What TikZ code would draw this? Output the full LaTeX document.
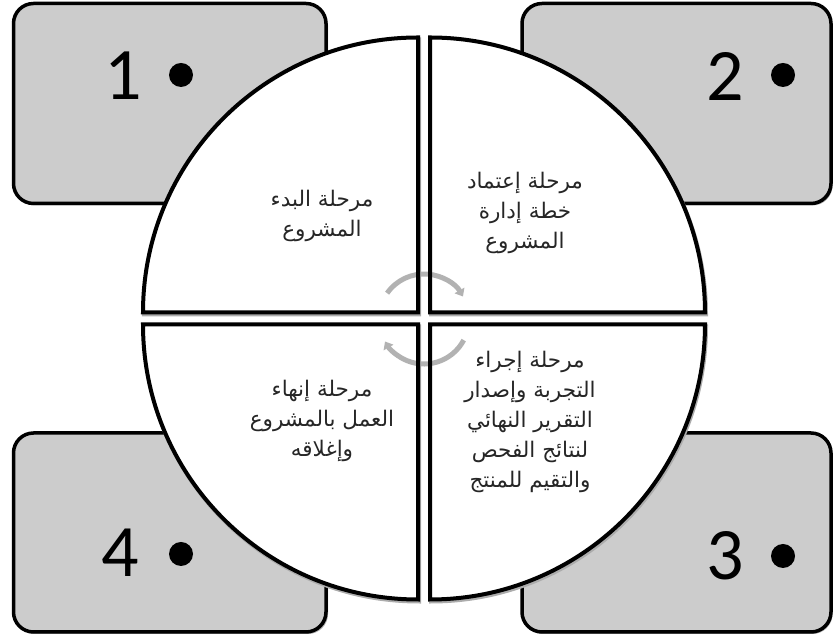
\documentclass[tikz,border=0pt]{standalone}
\usepackage{fontspec}
\setmainfont{Carlito}
\newfontfamily\arabicfont[Script=Arabic]{DejaVu Sans}
\TeXXeTstate=1
\usetikzlibrary{arrows.meta}
\newcommand{\rtl}[1]{\beginR #1\endR}
\begin{document}
\begin{tikzpicture}[x=1pt,y=1pt,
  box/.style={draw=black, line width=3.5pt, fill=gray!40, rounded corners=20pt},
  boxshadow/.style={fill=gray!65, rounded corners=20pt},
  secfill/.style={fill=white},
  secshadow/.style={draw=gray!65, line width=4pt},
  outline/.style={draw=black, line width=4pt, line join=miter},
  num/.style={font=\fontsize{74}{74}\selectfont, inner sep=0pt},
  dotmark/.style={circle, fill=black, minimum size=24pt, inner sep=0pt},
  phase/.style={font=\arabicfont\fontsize{21.5}{30}\selectfont, align=center, text=black!85},
  cyc/.style={draw=gray!60, line width=5pt, -{Triangle[length=7pt,width=11pt]}}
]
\useasboundingbox (0,0) rectangle (833,639);
% shadows of boxes
\path[boxshadow] (15,433.5) rectangle (328,633.5);
\path[boxshadow] (523.5,433.5) rectangle (832.5,633.5);
\path[boxshadow] (15,5) rectangle (328,204);
\path[boxshadow] (523.5,5) rectangle (832.5,204);
% boxes
\path[box] (13.5,435.5) rectangle (326,635.5);
\path[box] (522,435.5) rectangle (831,635.5);
\path[box] (13.5,7) rectangle (326,206);
\path[box] (522,7) rectangle (831,206);
% numbers and dots
\node[num] (n1) at (123,563) {1};
\node[dotmark] (d1) at (181,564) {};
\node[num] (n2) at (725,563) {2};
\node[dotmark] (d2) at (783,564) {};
\node[num] (n3) at (725,83) {3};
\node[dotmark] (d3) at (783,83) {};
\node[num] (n4) at (120,86) {4};
\node[dotmark] (d4) at (181,85) {};
% sectors
\def\secTL{(418,326.5) -- (143,326.5) arc[start angle=180,end angle=90,radius=275] -- cycle}
\def\secTR{(430,326.5) -- (430,601.5) arc[start angle=90,end angle=0,radius=275] -- cycle}
\def\secBL{(418,314.5) -- (418,39.5) arc[start angle=270,end angle=180,radius=275] -- cycle}
\def\secBR{(430,314.5) -- (705,314.5) arc[start angle=0,end angle=-90,radius=275] -- cycle}
\begin{scope}[shift={(1,-2)}]
\path[secshadow] \secTL;
\path[secshadow] \secTR;
\path[secshadow] \secBL;
\path[secshadow] \secBR;
\end{scope}
\path[secfill] \secTL;
\path[secfill] \secTR;
\path[secfill] \secBL;
\path[secfill] \secBR;
% cycle arrows
\draw[cyc] (387.14,345.81) arc[start angle=145,end angle=30,radius=45];
\draw[cyc] (463.73,298.87) arc[start angle=-28,end angle=-150,radius=45];
\path[outline] \secTL;
\path[outline] \secTR;
\path[outline] \secBL;
\path[outline] \secBR;
% texts
\node[phase] (t1) at (322,423) {\rtl{مرحلة البدء}\\\rtl{المشروع}};
\node[phase] (t2) at (525,426) {\rtl{مرحلة إعتماد}\\\rtl{خطة إدارة}\\\rtl{المشروع}};
\node[phase] (t4) at (322,218) {\rtl{مرحلة إنهاء}\\\rtl{العمل بالمشروع}\\\rtl{وإغلاقه}};
\node[phase] (t3) at (530,217) {\rtl{مرحلة إجراء}\\\rtl{التجربة وإصدار}\\\rtl{التقرير النهائي}\\\rtl{لنتائج الفحص}\\\rtl{والتقيم للمنتج}};
\end{tikzpicture}
\end{document}
